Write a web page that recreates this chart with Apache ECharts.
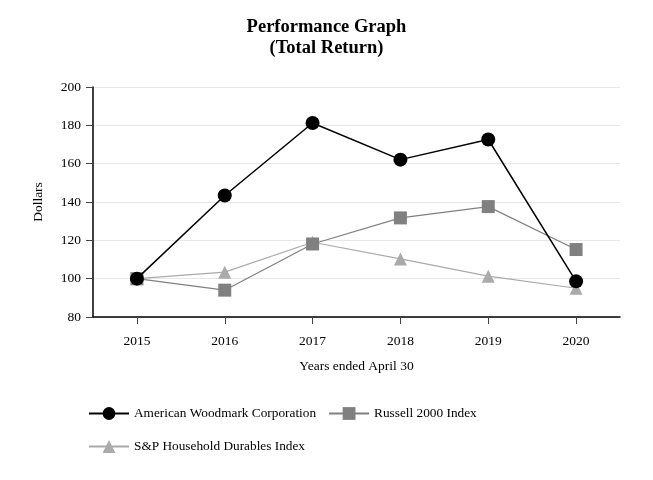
<!DOCTYPE html>
<html><head><meta charset="utf-8">
<script src="https://cdn.jsdelivr.net/npm/echarts@6/dist/echarts.min.js"></script>
<style>html,body{margin:0;padding:0;background:#fff}#c{width:653px;height:480px}</style>
</head><body><div id="c"></div>
<script>
var years = ['2015','2016','2017','2018','2019','2020'];
var woodmark = [100, 143.4, 181.2, 162.1, 172.6, 98.6];
var russell = [100, 94.0, 118.1, 131.7, 137.6, 115.2];
var spDurables = [100, 103.4, 119.0, 110.3, 101.3, 95.0];
var seriesNames = ['American Woodmark Corporation', 'Russell 2000 Index', 'S&P Household Durables Index'];

var font = 'Liberation Serif';
var chart = echarts.init(document.getElementById('c'));
chart.setOption({
  animation: false,
  textStyle: {fontFamily: font},
  title: {
    text: 'Performance Graph\n(Total Return)',
    left: 'center', top: 12,
    textStyle: {fontFamily: font, fontSize: 18.5, fontWeight: 'bold', color: '#000', lineHeight: 21}
  },
  grid: {left: 93, right: 33, top: 87, bottom: 163},
  xAxis: {
    type: 'category', data: years, boundaryGap: true,
    name: 'Years ended April 30', nameLocation: 'middle', nameGap: 42,
    nameTextStyle: {fontFamily: font, fontSize: 13.5, color: '#000'},
    axisLine: {lineStyle: {color: '#000', width: 1.5}},
    axisTick: {show: true, alignWithLabel: true, interval: 0, length: 7, lineStyle: {color: '#444', width: 1}},
    axisLabel: {fontFamily: font, fontSize: 13.5, color: '#000', margin: 17}
  },
  yAxis: {
    type: 'value', min: 80, max: 200, interval: 20,
    name: 'Dollars', nameLocation: 'middle', nameGap: 48, nameRotate: 90,
    nameTextStyle: {fontFamily: font, fontSize: 13.5, color: '#000'},
    axisLine: {show: true, lineStyle: {color: '#000', width: 1.5}},
    axisTick: {show: true, length: 7, lineStyle: {color: '#444'}},
    axisLabel: {fontFamily: font, fontSize: 13.5, color: '#000', margin: 12},
    splitLine: {lineStyle: {color: '#e6e6e6', width: 1}}
  },
  legend: [{
    data: [seriesNames[0], seriesNames[1]],
    left: 83, top: 402, itemWidth: 40, itemHeight: 16, itemGap: 12,
    textStyle: {fontFamily: font, fontSize: 13.3, color: '#000'}
  }, {
    data: [seriesNames[2]],
    left: 83, top: 435, itemWidth: 40, itemHeight: 16,
    textStyle: {fontFamily: font, fontSize: 13.3, color: '#000'}
  }],
  series: [{
    name: seriesNames[2], type: 'line', data: spDurables,
    symbol: 'triangle', symbolSize: 13,
    itemStyle: {color: '#aaaaaa'}, lineStyle: {color: '#aaaaaa', width: 1.2}, z: 2
  }, {
    name: seriesNames[1], type: 'line', data: russell,
    symbol: 'rect', symbolSize: 13,
    itemStyle: {color: '#808080'}, lineStyle: {color: '#808080', width: 1.2}, z: 3
  }, {
    name: seriesNames[0], type: 'line', data: woodmark,
    symbol: 'circle', symbolSize: 14,
    itemStyle: {color: '#000'}, lineStyle: {color: '#000', width: 1.5}, z: 4
  }]
});
</script></body></html>
